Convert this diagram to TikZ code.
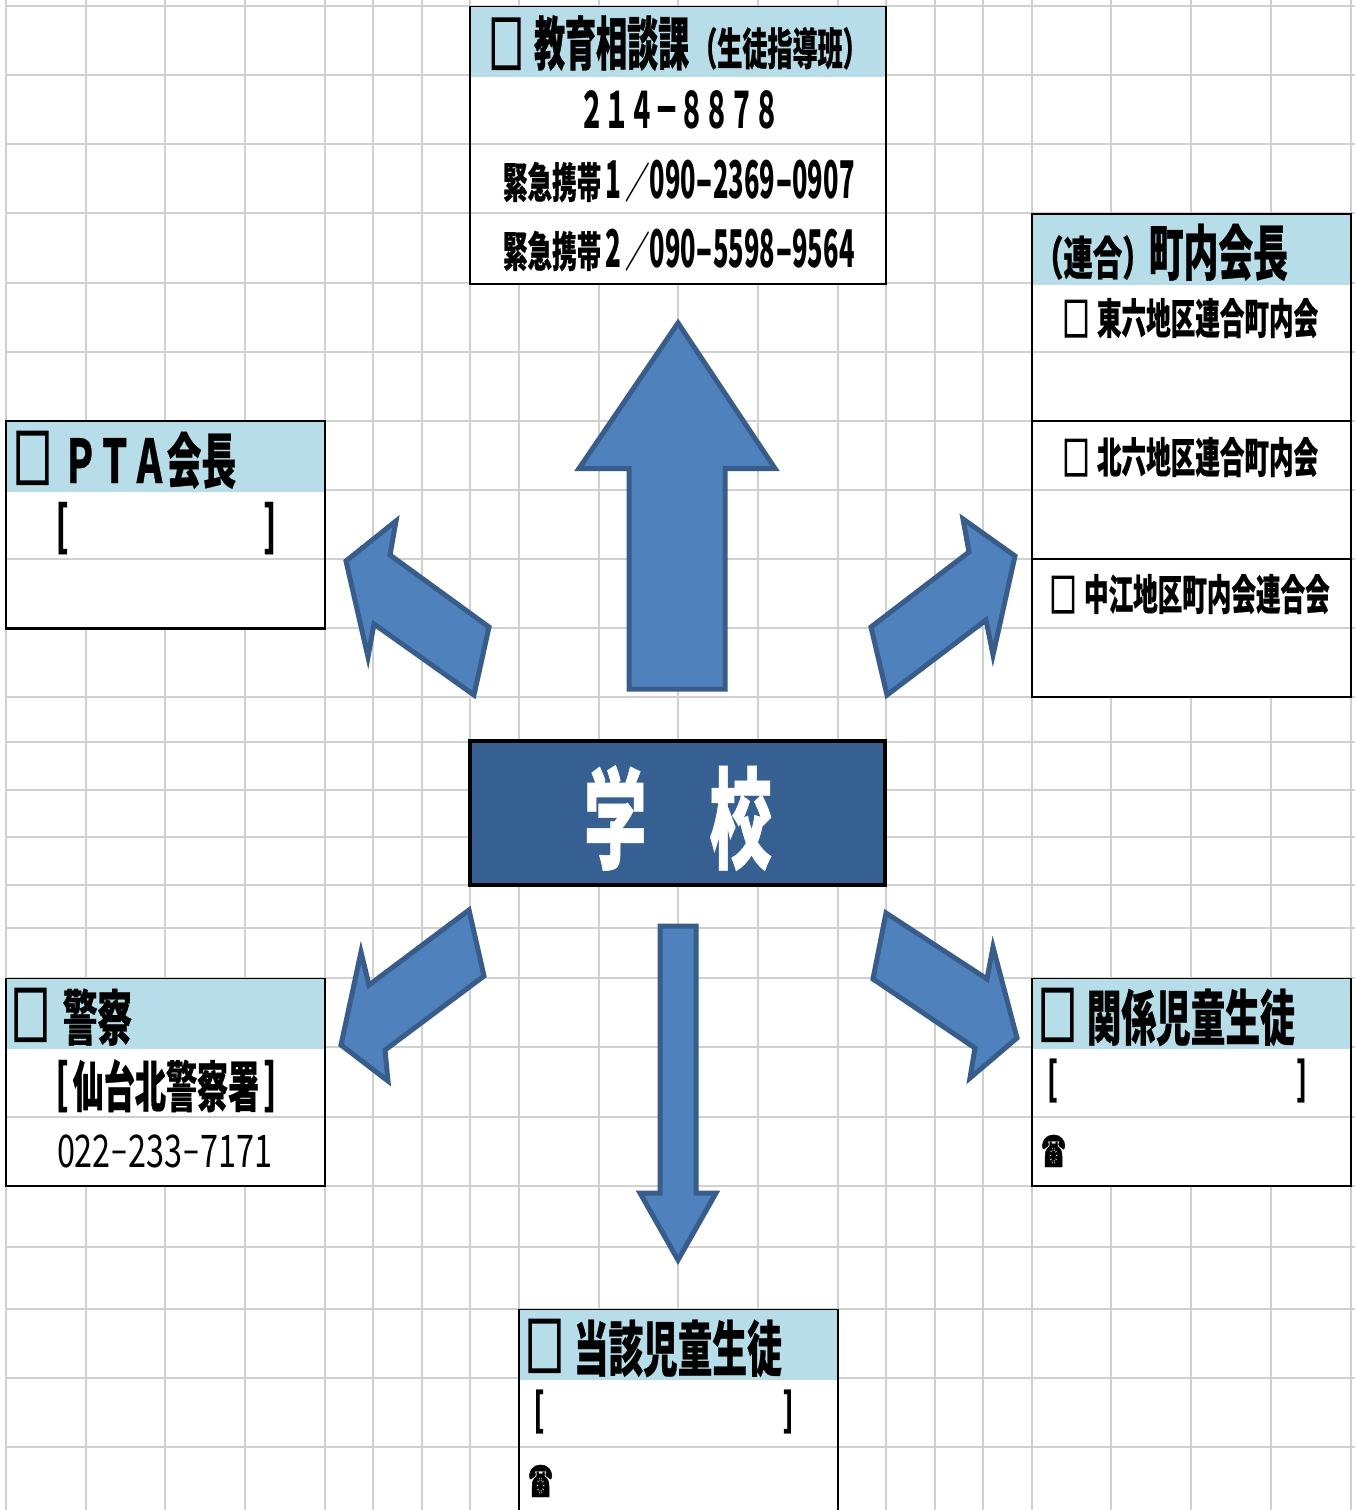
\documentclass[tikz,border=0pt]{standalone}
\usepackage{fontspec}
\usepackage{tikz}
\setmainfont{Noto Sans CJK JP}
\newfontfamily\phonefont{DejaVu Sans}
\definecolor{gridGray}{HTML}{D0D0D0}
\definecolor{headBlue}{HTML}{B7DEE8}
\definecolor{arrowFill}{HTML}{4F81BD}
\definecolor{arrowLine}{HTML}{385D8A}
\definecolor{schoolBlue}{HTML}{376092}
\newcommand{\jf}[3]{{\bfseries\fontsize{#1}{#1}\selectfont\addfontfeature{FakeStretch=#2,FakeBold=0.5}#3}}
\newcommand{\jd}[3]{{\bfseries\fontsize{#1}{#1}\selectfont\addfontfeature{FakeStretch=#2}#3}}
\newcommand{\sq}[2]{{\bfseries\fontsize{#1}{#1}\selectfont\addfontfeature{FakeStretch=#2,FakeBold=2.5}□}}
\newcommand{\hy}{\makebox[17pt]{\addfontfeature{FakeStretch=0.9}-}}
\newcommand{\hdr}[2][0pt]{\hspace*{\dimexpr#1-2.5pt\relax}\sq{66}{0.578}\hspace{\dimexpr13.1pt-#1\relax}\jf{60}{0.578}{#2}}
\newcommand{\row}[1]{\hspace*{-0.5pt}\raisebox{-2pt}{\sq{46}{0.585}}\hspace{7.6pt}\jf{42}{0.585}{#1}}
\newcommand{\tel}[2]{\jf{42}{0.585}{緊急携帯}\jd{52}{0.5}{\makebox[24pt]{#1}}\jd{42}{0.585}{／}\jd{52}{0.49}{#2}}
\newcommand{\dash}{{\fontsize{40}{40}\selectfont\addfontfeature{FakeStretch=0.45}－}}
\newcommand{\phone}{{\phonefont\fontsize{44}{44}\selectfont\addfontfeature{FakeStretch=0.46,FakeBold=1}☎}}
\tikzset{
	gridline/.style={gridGray,line width=2.5},
	sheetbox/.style={draw,fill=white,line width=2.5,inner sep=0,outer sep=0},
	headbox/.style={fill=headBlue,inner sep=0,outer sep=0},
	label/.style={inner sep=0,outer sep=0,anchor=base west},
	midlabel/.style={inner sep=0,outer sep=0,anchor=base},
	blockarrow/.style={fill=arrowFill,draw=arrowLine,line width=5,miter limit=20}
}
\begin{document}
\begin{tikzpicture}[x=1pt,y=-1pt]
	\useasboundingbox (0,0) rectangle (1355,1510);
	\clip (0,0) rectangle (1355,1510);
	\fill[white] (0,0) rectangle (1355,1510);

	% sheet grid
	\foreach \x in {6,86,165,245,325,373,422,470,519,599,678,758,838,886,935,983,1032,1111,1191,1271,1351}
		\draw[gridline] (\x,0) -- (\x,1510);
	\foreach \y in {6,75,144,213,283,352,421,490,559,628,697,742,790,837,885,928,978,1047,1117,1186,1247,1309,1378,1447}
		\draw[gridline] (6,\y) -- (1355,\y);

	% boxes
	\node (boxSoudan) at (678,145.5) [sheetbox,minimum width=416,minimum height=277] {};
	\node (boxChounai) at (1191.5,455.5) [sheetbox,minimum width=319,minimum height=483] {};
	\node (boxPta) at (165.5,525) [sheetbox,minimum width=319,minimum height=207] {};
	\node (boxKeisatsu) at (165.5,1082.5) [sheetbox,minimum width=319,minimum height=207] {};
	\node (boxKankei) at (1191.5,1082.5) [sheetbox,minimum width=319,minimum height=207] {};
	\node (boxTougai) at (678.5,1420) [sheetbox,minimum width=319,minimum height=220] {};

	% grey rows seen through the boxes
	\draw[gridline] (471,144) -- (885,144) (471,213) -- (885,213);
	\draw[gridline] (1033,352) -- (1350,352) (1033,490) -- (1350,490) (1033,628) -- (1350,628);
	\draw[gridline] (7,559) -- (324,559);
	\draw[gridline] (7,1117) -- (324,1117);
	\draw[gridline] (1033,1117) -- (1350,1117);
	\draw[gridline] (520,1447) -- (837,1447);

	% heads
	\node (headSoudan) at (678,42) [headbox,minimum width=414,minimum height=70] {};
	\node (headChounai) at (1191.5,249.5) [headbox,minimum width=317,minimum height=70] {};
	\node (headPta) at (165.5,456.5) [headbox,minimum width=317,minimum height=70] {};
	\node (headKeisatsu) at (165.5,1014) [headbox,minimum width=317,minimum height=70] {};
	\node (headKankei) at (1191.5,1014) [headbox,minimum width=317,minimum height=70] {};
	\node (headTougai) at (678.5,1345) [headbox,minimum width=317,minimum height=70] {};

	% row lines of the right box
	\draw[line width=2.5] (boxChounai.west |- 0,421) -- (boxChounai.east |- 0,421);
	\draw[line width=2.5] (boxChounai.west |- 0,559) -- (boxChounai.east |- 0,559);

	% texts
	\node[label] (txtSoudan) at (489,65) {\raisebox{-3pt}{\sq{64}{0.535}}\hspace{10.8pt}\jf{58}{0.535}{教育相談課}\hspace{3pt}\jf{44}{0.57}{（生徒指導班）}};
	\node[midlabel] (txtNumber) at (679,128) {\jd{50}{0.5}{２１４－８８７８}};
	\node[label] (txtMobileA) at (503,198) {\tel{1}{090\hy2369\hy0907}};
	\node[label] (txtMobileB) at (503,267) {\tel{2}{090\hy5598\hy9564}};

	\node[label] (txtChounai) at (1034,275) {\jf{46}{0.64}{（連合）}\hspace{-3pt}\jf{60}{0.58}{町内会長}};
	\node[label] (txtHigashi) at (1063,334) {\row{東六地区連合町内会}};
	\node[label] (txtKita) at (1063,473) {\row{北六地区連合町内会}};
	\node[label] (txtNakae) at (1050,610) {\row{中江地区町内会連合会}};

	\node[label] (txtPta) at (14,483) {\hdr[2pt]{ＰＴＡ会長}};
	\node[midlabel] (brkPta) at (166,549) {\jf{55}{0.565}{［\hspace{5pt}　　　　　　\hspace{5pt}］}};

	\node[label] (txtKeisatsu) at (14,1040) {\hdr{警察}};
	\node[midlabel] (txtSendai) at (166,1107) {\jf{55}{0.565}{［\hspace{5pt}仙台北警察署\hspace{5pt}］}};
	\node[label] (txtPolice) at (57,1167) {\fontsize{45}{45}\selectfont\addfontfeature{FakeStretch=0.72}022\dash 233\dash 7171};

	\node[label] (txtKankei) at (1038,1040) {\hdr[3pt]{関係児童生徒}};
	\node[midlabel] (brkKankei) at (1177,1098) {\jf{46}{0.565}{［\hspace{3pt}　　　　　　　　　\hspace{3pt}］}};
	\node[label] (telKankei) at (1041,1167) {\phone};

	\node[label] (txtTougai) at (525,1371) {\hdr[3pt]{当該児童生徒}};
	\node[midlabel] (brkTougai) at (663.5,1429) {\jf{46}{0.565}{［\hspace{3pt}　　　　　　　　　\hspace{3pt}］}};
	\node[label] (telTougai) at (528,1497) {\phone};

	% block arrows
	\draw[blockarrow] (678,323) -- (775,468.5) -- (725,468.5) -- (725,689) -- (629,689) -- (629,468.5) -- (579,468.5) -- cycle;
	\draw[blockarrow] (346,561) -- (396,521) -- (390,555) -- (489,627) -- (474,695) -- (374,624) -- (368,657) -- cycle;
	\draw[blockarrow] (1015,556) -- (963,519) -- (969,552) -- (871,627) -- (887,695) -- (986,620) -- (993,655) -- cycle;
	\draw[blockarrow] (341,1045) -- (361,952) -- (369,985) -- (469,910) -- (484,976) -- (385,1050) -- (388,1081) -- cycle;
	\draw[blockarrow] (1017,1038) -- (993,947) -- (987,979) -- (886,913) -- (873,979) -- (975,1048) -- (970,1078) -- cycle;
	\draw[blockarrow] (660,926) -- (696,926) -- (696,1193) -- (716,1193) -- (678,1260) -- (640,1193) -- (660,1193) -- cycle;

	% school
	\node (boxGakkou) at (677.5,813) [draw=black,fill=schoolBlue,line width=4,inner sep=0,outer sep=0,minimum width=415,minimum height=144] {};
	\node[midlabel,text=white] (txtGakkou) at (678,860) {\jf{110}{0.57}{学　校}};
\end{tikzpicture}
\end{document}
